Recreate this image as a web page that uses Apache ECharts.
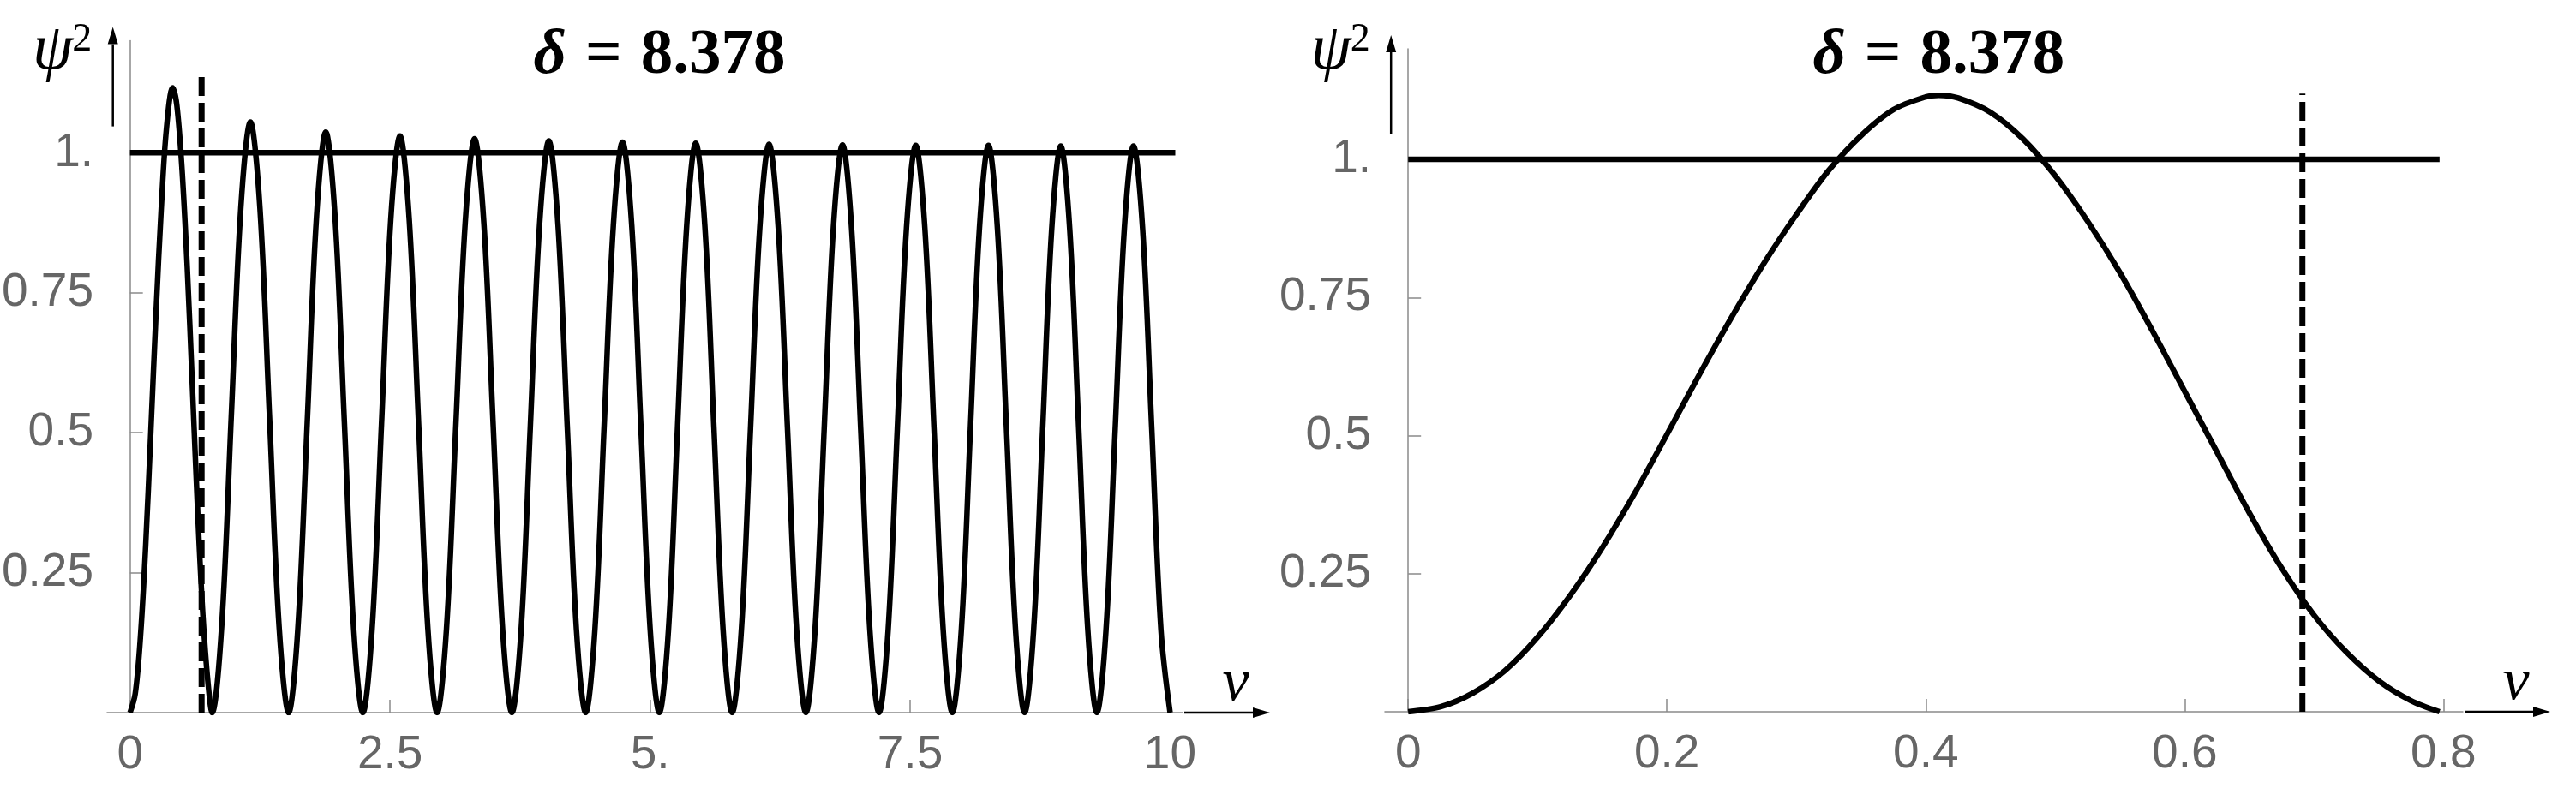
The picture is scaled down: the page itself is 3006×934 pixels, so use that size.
<!DOCTYPE html>
<html>
<head>
<meta charset="utf-8">
<script src="https://cdn.jsdelivr.net/npm/echarts@6/dist/echarts.min.js"></script>
<style>
	html, body { margin: 0; padding: 0; background: #fff; }
	#chart { width: 3006px; height: 934px; }
</style>
</head>
<body>
<div id="chart"></div>
<script>
	// left panel: psi^2 over v in [0, 10]
	const leftV = [
		0, 0.05, 0.1, 0.15, 0.2, 0.25, 0.3, 0.35, 0.41, 0.45, 0.5, 0.55, 0.6, 0.65, 0.7, 0.75, 0.789,
		0.881, 0.973, 1.065, 1.157, 1.249, 1.341, 1.433, 1.525,
		1.614, 1.704, 1.793, 1.882, 1.971, 2.061, 2.150, 2.239,
		2.328, 2.418, 2.507, 2.596, 2.685, 2.775, 2.864, 2.953,
		3.043, 3.133, 3.223, 3.313, 3.402, 3.492, 3.582, 3.672,
		3.761, 3.849, 3.938, 4.027, 4.115, 4.204, 4.292, 4.381,
		4.470, 4.558, 4.647, 4.735, 4.824, 4.912, 5.001, 5.089,
		5.177, 5.264, 5.352, 5.439, 5.527, 5.614, 5.702, 5.789,
		5.878, 5.966, 6.055, 6.144, 6.232, 6.321, 6.409, 6.498,
		6.586, 6.674, 6.762, 6.850, 6.937, 7.025, 7.113, 7.201,
		7.289, 7.377, 7.465, 7.554, 7.642, 7.730, 7.818, 7.906,
		7.993, 8.080, 8.167, 8.254, 8.340, 8.427, 8.514, 8.601,
		8.688, 8.775, 8.862, 8.949, 9.035, 9.122, 9.209, 9.296,
		9.384, 9.472, 9.560, 9.648, 9.736, 9.824, 9.912, 10.0
	];
	const leftPsi = [
		0, 0.034, 0.135, 0.297, 0.502, 0.714, 0.9, 1.043, 1.116, 1.085, 0.97, 0.795, 0.58, 0.36, 0.175, 0.052, 0,
		0.154, 0.528, 0.901, 1.055, 0.901, 0.528, 0.154, 0,
		0.151, 0.519, 0.886, 1.037, 0.886, 0.519, 0.151, 0,
		0.150, 0.515, 0.880, 1.030, 0.880, 0.515, 0.150, 0,
		0.150, 0.513, 0.875, 1.025, 0.875, 0.513, 0.150, 0,
		0.149, 0.511, 0.872, 1.021, 0.872, 0.511, 0.149, 0,
		0.149, 0.510, 0.870, 1.019, 0.870, 0.510, 0.149, 0,
		0.148, 0.509, 0.869, 1.017, 0.869, 0.509, 0.148, 0,
		0.148, 0.508, 0.867, 1.015, 0.867, 0.508, 0.148, 0,
		0.148, 0.507, 0.866, 1.014, 0.866, 0.507, 0.148, 0,
		0.148, 0.507, 0.865, 1.013, 0.865, 0.507, 0.148, 0,
		0.148, 0.507, 0.865, 1.013, 0.865, 0.507, 0.148, 0,
		0.148, 0.506, 0.864, 1.012, 0.864, 0.506, 0.148, 0,
		0.148, 0.506, 0.864, 1.012, 0.864, 0.506, 0.148, 0
	];

	// right panel: the first hump, enlarged
	const rightV = [
		0, 0.025, 0.05, 0.075, 0.1, 0.125, 0.15, 0.175, 0.2, 0.225, 0.25, 0.275,
		0.3, 0.325, 0.35, 0.375, 0.4, 0.41, 0.425, 0.45, 0.475, 0.5, 0.525, 0.55,
		0.575, 0.6, 0.625, 0.65, 0.675, 0.7, 0.725, 0.75, 0.775, 0.797
	];
	const rightPsi = [
		0, 0.009, 0.034, 0.075, 0.135, 0.21, 0.297, 0.395, 0.502, 0.61, 0.714, 0.812,
		0.9, 0.98, 1.043, 1.09, 1.113, 1.116, 1.111, 1.085, 1.037, 0.97, 0.888, 0.795,
		0.69, 0.58, 0.47, 0.36, 0.26, 0.175, 0.108, 0.056, 0.02, 0
	];

	// horizontal level psi^2 = 1 and the dashed marker
	const level = 1;
	const leftLevelV = [0, 10.05];
	const rightLevelV = [0, 0.797];
	const leftDash = { v: 0.688, top: 1.136 };
	const rightDash = { v: 0.691, top: 1.119 };

	// ticks
	const leftXTicks = [0, 2.5, 5, 7.5, 10];
	const leftXLabels = ['0', '2.5', '5.', '7.5', '10'];
	const rightXTicks = [0, 0.2, 0.4, 0.6, 0.8];
	const rightXLabels = ['0', '0.2', '0.4', '0.6', '0.8'];
	const yTicks = [0.25, 0.5, 0.75, 1];
	const yLabels = ['0.25', '0.5', '0.75', '1.'];

	const titleText = '8.378';

	const axisGray = '#8a8a8a';
	const labelGray = '#666';
	const tickFont = '"Liberation Sans", sans-serif';

	function pick(ticks, labels) {
		return function (val) {
			for (let i = 0; i < ticks.length; i++) {
				if (Math.abs(ticks[i] - val) < 1e-9) return labels[i];
			}
			return '';
		};
	}

	function xAxisOf(grid, min, max, ticks, labels) {
		return {
			gridIndex: grid,
			type: 'value',
			min: min,
			max: max,
			axisLine: { show: true, onZero: false, lineStyle: { color: axisGray, width: 1.5 } },
			axisTick: { show: true, inside: true, length: 15, customValues: ticks, lineStyle: { color: axisGray, width: 1.5 } },
			axisLabel: {
				customValues: ticks, formatter: pick(ticks, labels), margin: 22,
				color: labelGray, fontSize: 55, fontFamily: tickFont
			},
			splitLine: { show: false }
		};
	}

	function yAxisOf(grid) {
		return {
			gridIndex: grid,
			type: 'value',
			min: 0,
			max: 1.2,
			axisLine: { show: true, onZero: true, lineStyle: { color: axisGray, width: 1.5 } },
			axisTick: { show: true, inside: true, length: 15, customValues: yTicks, lineStyle: { color: axisGray, width: 1.5 } },
			axisLabel: {
				customValues: yTicks, formatter: pick(yTicks, yLabels), margin: 16,
				color: labelGray, fontSize: 55, fontFamily: tickFont
			},
			splitLine: { show: false }
		};
	}

	function zip(a, b) {
		return a.map((v, i) => [v, b[i]]);
	}

	function lineSeries(grid, data, extra) {
		return Object.assign({
			type: 'line',
			xAxisIndex: grid,
			yAxisIndex: grid,
			data: data,
			showSymbol: false,
			silent: true,
			lineStyle: { color: '#000', width: 6.5 }
		}, extra || {});
	}

	const chart = echarts.init(document.getElementById('chart'));

	const option = {
		animation: false,
		backgroundColor: '#fff',
		grid: [
			{ left: 125, top: 47.6, width: 1255, height: 784.4, outerBoundsMode: 'none' },
			{ left: 1616, top: 57, width: 1258, height: 774, outerBoundsMode: 'none' }
		],
		xAxis: [
			xAxisOf(0, -0.22, 10.12, leftXTicks, leftXLabels),
			xAxisOf(1, -0.018, 0.815, rightXTicks, rightXLabels)
		],
		yAxis: [yAxisOf(0), yAxisOf(1)],
		series: [
			lineSeries(0, zip(leftV, leftPsi), { smooth: 0.35 }),
			lineSeries(0, leftLevelV.map(v => [v, level])),
			lineSeries(0, [[leftDash.v, 0], [leftDash.v, leftDash.top]], {
				lineStyle: { color: '#000', width: 7, type: [22, 8] }
			}),
			lineSeries(1, zip(rightV, rightPsi), { smooth: 0.3 }),
			lineSeries(1, rightLevelV.map(v => [v, level])),
			lineSeries(1, [[rightDash.v, 0], [rightDash.v, rightDash.top]], {
				lineStyle: { color: '#000', width: 7, type: [22, 8] }
			})
		]
	};
	chart.setOption(option);

	// decorations: arrows, axis names and the two titles
	function arrow(x1, y1, x2, y2) {
		const len = Math.hypot(x2 - x1, y2 - y1);
		const ux = (x2 - x1) / len, uy = (y2 - y1) / len;
		const bx = x2 - ux * 20, by = y2 - uy * 20;
		return [
			{ type: 'line', silent: true, shape: { x1: x1, y1: y1, x2: bx, y2: by }, style: { stroke: '#000', lineWidth: 2.5 } },
			{
				type: 'polygon', silent: true,
				shape: { points: [[x2, y2], [bx - uy * 6, by + ux * 6], [bx + uy * 6, by - ux * 6]] },
				style: { fill: '#000' }
			}
		];
	}

	function text(str, x, y, font) {
		return {
			type: 'text', silent: true,
			style: { text: str, x: x, y: y, font: font, fill: '#000', align: 'center', verticalAlign: 'middle' }
		};
	}

	function decorations(grid, xEnd, titleV) {
		const origin = chart.convertToPixel({ gridIndex: grid }, [0, 0]);
		const top = chart.convertToPixel({ gridIndex: grid }, [0, 1.2]);
		const endPx = chart.convertToPixel({ gridIndex: grid }, [xEnd, 0]);
		const titleX = chart.convertToPixel({ gridIndex: grid }, [titleV, 0])[0];
		const ax = origin[0];
		const serif = '"Liberation Serif"';
		let items = [];
		items = items.concat(arrow(endPx[0] + 2, origin[1], endPx[0] + 102, origin[1]));
		items = items.concat(arrow(ax - 20, top[1] + 100, ax - 20, top[1] - 16));
		items.push(text('ψ', ax - 90, 60, 'italic 76px ' + serif));
		items.push(text('2', ax - 56, 47, '46px ' + serif));
		items.push(text('v', endPx[0] + 62, origin[1] - 33, 'italic 70px ' + serif));
		items.push({
			type: 'text', silent: true,
			style: {
				text: '{d|δ}{e|=}{n|' + titleText + '}',
				x: titleX, y: 66, align: 'center', verticalAlign: 'middle',
				rich: {
					d: { fontFamily: 'Liberation Serif', fontSize: 75, fontStyle: 'italic', fontWeight: 'bold', fill: '#000' },
					e: { fontFamily: 'Liberation Serif', fontSize: 75, fontWeight: 'bold', fill: '#000', padding: [0, 22, 0, 22] },
					n: { fontFamily: 'Liberation Serif', fontSize: 75, fontWeight: 'bold', fill: '#000' }
				}
			}
		});
		return items;
	}

	chart.setOption({
		graphic: decorations(0, 10.12, 5.09).concat(decorations(1, 0.815, 0.41))
	});
</script>
</body>
</html>
